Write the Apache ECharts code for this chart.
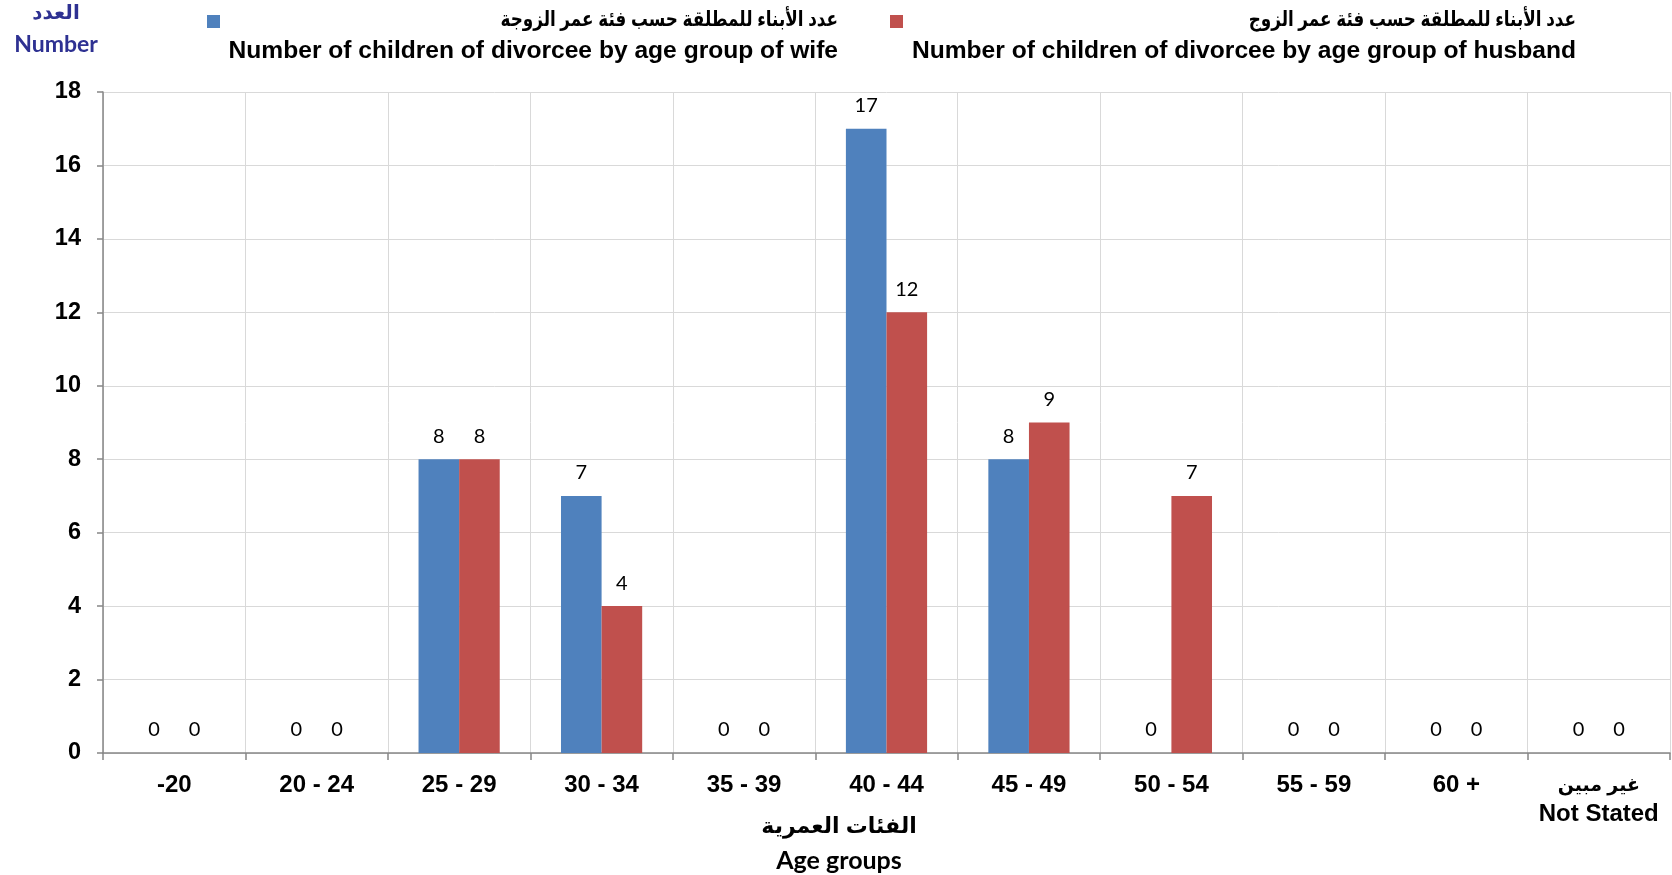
<!DOCTYPE html>
<html>
<head>
<meta charset="utf-8">
<script src="https://cdn.jsdelivr.net/npm/echarts@6/dist/echarts.min.js"></script>
<style>
html,body{margin:0;padding:0;background:#fff;}
#chart{width:1672px;height:875px;}
</style>
</head>
<body>
<div id="chart"></div>
<script>
const categories = ['-20', '20 - 24', '25 - 29', '30 - 34', '35 - 39', '40 - 44', '45 - 49', '50 - 54', '55 - 59', '60 +', 'غير مبين\nNot Stated'];
const wifeValues = [0, 0, 8, 7, 0, 17, 8, 0, 0, 0, 0];
const husbandValues = [0, 0, 8, 4, 0, 12, 9, 7, 0, 0, 0];
const wifeNameAr = 'عدد الأبناء للمطلقة حسب فئة عمر الزوجة';
const wifeNameEn = 'Number of children of divorcee by age group of wife';
const husbandNameAr = 'عدد الأبناء للمطلقة حسب فئة عمر الزوج';
const husbandNameEn = 'Number of children of divorcee by age group of husband';
const yTicks = [0, 2, 4, 6, 8, 10, 12, 14, 16, 18];
const colors = ['#4f81bd', '#c0504d'];

const chart = echarts.init(document.getElementById('chart'));
const FONT = '"Liberation Sans", "DejaVu Sans", Arial, sans-serif';
const CAL = 'Lato, "DejaVu Sans", sans-serif';

const labelOpt = {
  show: true,
  position: 'top',
  distance: 13,
  color: '#000',
  fontFamily: CAL,
  fontSize: 20
};

chart.setOption({
  animation: false,
  grid: { left: 103, right: 2, top: 92, bottom: 122 },
  xAxis: {
    type: 'category',
    data: categories,
    axisLine: { lineStyle: { color: '#868686', width: 1.5 } },
    axisTick: { show: true, length: 7, lineStyle: { color: '#868686', width: 1.5 } },
    splitLine: { show: true, lineStyle: { color: '#d9d9d9', width: 1 } },
    axisLabel: {
      margin: 18,
      interval: 0,
      color: '#000',
      fontFamily: FONT,
      fontWeight: 'bold',
      fontSize: 24,
      lineHeight: 29,
      formatter: function (v) {
        if (v.indexOf('\n') >= 0) {
          const p = v.split('\n');
          return '{ar|' + p[0] + '}\n{en|' + p[1] + '}';
        }
        return v;
      },
      rich: {
        ar: { fontFamily: FONT, fontWeight: 'bold', fontSize: 19, color: '#000', lineHeight: 29 },
        en: { fontFamily: FONT, fontWeight: 'bold', fontSize: 24, color: '#000', lineHeight: 29 }
      }
    }
  },
  yAxis: {
    type: 'value',
    min: 0,
    max: 18,
    interval: 2,
    axisLine: { show: true, lineStyle: { color: '#868686', width: 1.5 } },
    axisTick: { show: true, length: 6, lineStyle: { color: '#868686', width: 1.5 } },
    splitLine: { show: true, lineStyle: { color: '#d9d9d9', width: 1 } },
    axisLabel: {
      margin: 22,
      color: '#000',
      fontFamily: FONT,
      fontWeight: 'bold',
      fontSize: 23.5,
      formatter: function (v) { return yTicks.indexOf(v) >= 0 ? String(v) : ''; }
    }
  },
  series: [
    {
      name: wifeNameEn,
      type: 'bar',
      data: wifeValues,
      barGap: '0%',
      barCategoryGap: '43%',
      itemStyle: { color: colors[0] },
      label: labelOpt
    },
    {
      name: husbandNameEn,
      type: 'bar',
      data: husbandValues,
      barGap: '0%',
      barCategoryGap: '43%',
      itemStyle: { color: colors[1] },
      label: labelOpt
    }
  ],
  graphic: [
    { type: 'text', position: [56, 13], style: { text: 'العدد', fill: '#2e3192', font: 'bold 20px ' + FONT, textAlign: 'center', textVerticalAlign: 'middle' } },
    { type: 'text', position: [56, 45], style: { text: 'Number', fill: '#2e3192', font: 'bold 23px ' + CAL, textAlign: 'center', textVerticalAlign: 'middle' } },
    { type: 'rect', shape: { x: 207, y: 15, width: 13, height: 13 }, style: { fill: colors[0] } },
    { type: 'text', position: [838, 20], scaleX: 0.8, style: { text: wifeNameAr, fill: '#000', font: 'bold 21px ' + FONT, textAlign: 'right', textVerticalAlign: 'middle' } },
    { type: 'text', position: [838, 51], style: { text: wifeNameEn, fill: '#000', font: 'bold 24.6px ' + FONT, textAlign: 'right', textVerticalAlign: 'middle' } },
    { type: 'rect', shape: { x: 890, y: 15, width: 13, height: 13 }, style: { fill: colors[1] } },
    { type: 'text', position: [1576, 20], scaleX: 0.8, style: { text: husbandNameAr, fill: '#000', font: 'bold 21px ' + FONT, textAlign: 'right', textVerticalAlign: 'middle' } },
    { type: 'text', position: [1576, 51], style: { text: husbandNameEn, fill: '#000', font: 'bold 24.6px ' + FONT, textAlign: 'right', textVerticalAlign: 'middle' } },
    { type: 'text', position: [839, 827], style: { text: 'الفئات العمرية', fill: '#000', font: 'bold 22px ' + FONT, textAlign: 'center', textVerticalAlign: 'middle' } },
    { type: 'text', position: [839, 861], style: { text: 'Age groups', fill: '#000', font: 'bold 25px ' + CAL, textAlign: 'center', textVerticalAlign: 'middle' } }
  ]
});
</script>
</body>
</html>
